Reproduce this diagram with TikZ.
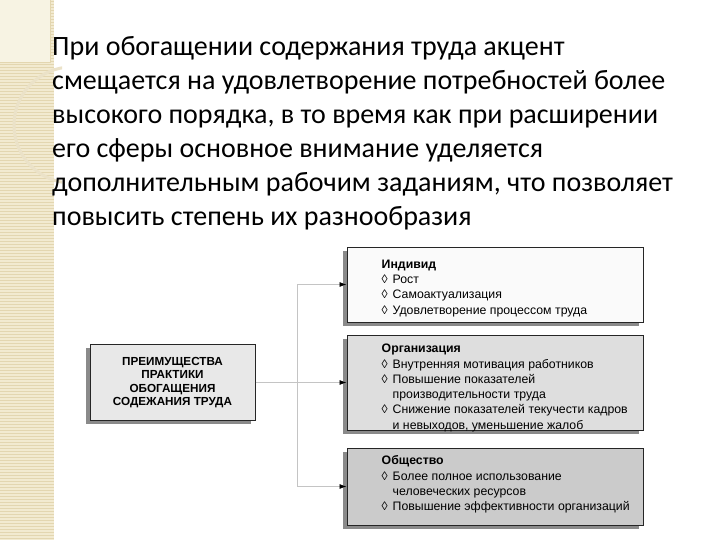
\documentclass[tikz,border=0pt]{standalone}
\usepackage{fontspec}
\setmainfont{Carlito}
\newfontfamily\diagfont{Liberation Sans}
\usetikzlibrary{arrows.meta,shadows,positioning}

\definecolor{stripbg}{HTML}{F2EAD0}
\definecolor{stripline}{HTML}{E3D6B0}
\definecolor{linkgray}{HTML}{C4C4C4}
\definecolor{cardwhite}{HTML}{FAFAFA}
\definecolor{cardmid}{HTML}{DEDEDE}
\definecolor{carddark}{HTML}{CBCBCB}
\definecolor{shadowgray}{HTML}{8A8A8A}

\newcommand{\itm}[1]{\makebox[11pt][l]{◊}#1}
\newcommand{\cnt}[1]{\makebox[11pt][l]{}#1}

\begin{document}
\begin{tikzpicture}[x=1pt,y=-1pt,
  every node/.style={inner sep=0pt},
  card/.style={rectangle,draw=black!85,line width=1pt,minimum width=296pt,
    drop shadow={shadow xshift=-4pt,shadow yshift=-3.5pt,fill=shadowgray,opacity=1}},
  cardtext/.style={anchor=north west,align=left,
    font=\diagfont\fontsize{12.3}{15.3}\selectfont},
  feed/.style={draw=linkgray,line width=0.8pt,
    -{Latex[length=7pt,width=5pt,color=black]}}]
  \useasboundingbox (0,0) rectangle (720,540);
  \fill[white] (0,0) rectangle (720,540);
  % left strip
  \fill[stripbg] (0,0) rectangle (54,540);
  \foreach \y in {1,4,...,540}
    \draw[stripline,line width=0.6pt] (0,\y) -- (54,\y);
  \fill[stripbg!60] (0,0) rectangle (50,62);
  \draw[stripline] (0,62) -- (50,62) -- (50,0);
  \begin{scope}
    \clip (0,0) rectangle (62,540);
    \draw[stripline!70,line width=3pt] (72,125) circle (58);
  \end{scope}
  % heading text
  \node[anchor=north west,align=left,font=\fontsize{28}{34}\selectfont] (lead) at (52,36)
    {При обогащении содержания труда акцент\\
     смещается на удовлетворение потребностей более\\
     высокого порядка, в то время как при расширении\\
     его сферы основное внимание уделяется\\
     дополнительным рабочим заданиям, что позволяет\\
     повысить степень их разнообразия};
  % diagram
  \node[card,minimum width=165pt,minimum height=76pt,
    fill=cardmid!70,align=center,font=\diagfont\bfseries\fontsize{11.7}{13.6}\selectfont]
    (adv) at (172.5,382.5)
    {ПРЕИМУЩЕСТВА\\ПРАКТИКИ\\ОБОГАЩЕНИЯ\\СОДЕЖАНИЯ ТРУДА};
  \node[card,fill=cardwhite,minimum height=75pt] (ind) at (495,284.5) {};
  \node[card,fill=cardmid,minimum height=95pt] (org) at (495,382.5) {};
  \node[card,fill=carddark,minimum height=77pt] (soc) at (495,486.5) {};
  \node[cardtext] (indtxt) at ([xshift=35pt,yshift=-13pt]ind.north west)
    {\textbf{Индивид}\\ \itm{Рост}\\ \itm{Самоактуализация}\\
     \itm{Удовлетворение процессом труда}};
  \node[cardtext] (orgtxt) at ([xshift=35pt,yshift=-9.5pt]org.north west)
    {\textbf{Организация}\\ \itm{Внутренняя мотивация работников}\\
     \itm{Повышение показателей}\\ \cnt{производительности труда}\\
     \itm{Снижение показателей текучести кадров}\\
     \cnt{и невыходов, уменьшение жалоб}};
  \node[cardtext] (soctxt) at ([xshift=35pt,yshift=-8pt]soc.north west)
    {\textbf{Общество}\\ \itm{Более полное использование}\\
     \cnt{человеческих ресурсов}\\ \itm{Повышение эффективности организаций}};
  \coordinate (split) at (297,382.5);
  \draw[feed] (adv.east) -- (org.west);
  \draw[feed] (split) |- (ind.west);
  \draw[feed] (split) |- (soc.west);
\end{tikzpicture}
\end{document}
